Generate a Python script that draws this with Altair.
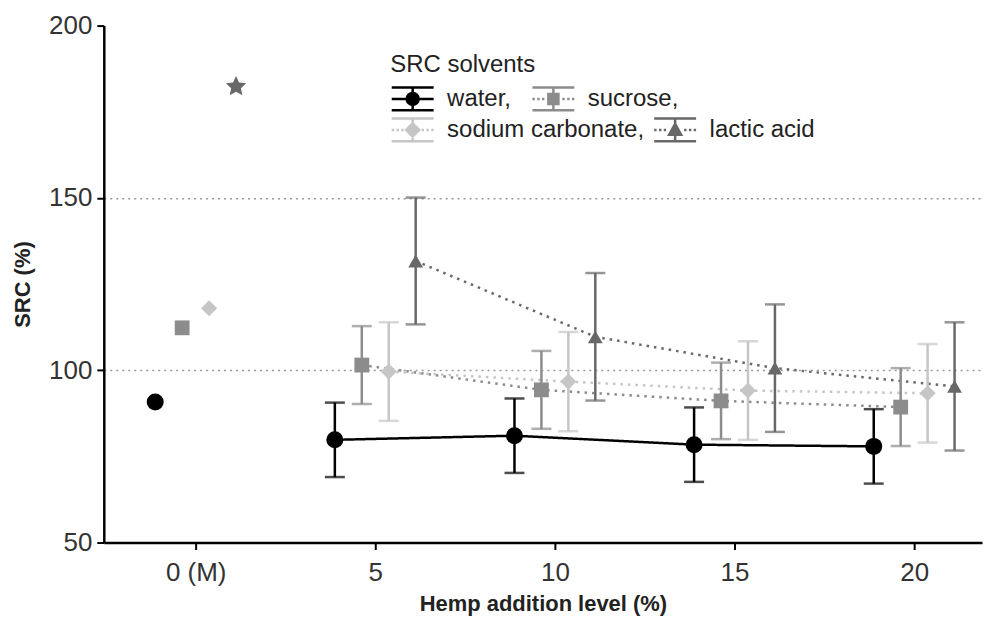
import altair as alt
import pandas as pd

# ---- data ----
solvents = ["water", "sucrose", "sodium carbonate", "lactic acid"]
levels = [0, 5, 10, 15, 20]
water = [90.8, 79.8, 81.0, 78.4, 77.9]
sucrose = [112.3, 101.5, 94.3, 91.1, 89.3]
sodium_carbonate = [118.0, 99.6, 96.7, 94.1, 93.3]
lactic_acid = [182.3, 131.7, 109.7, 100.6, 95.3]
water_err = [None, 10.8, 10.8, 10.8, 10.8]
sucrose_err = [None, 11.3, 11.3, 11.1, 11.3]
sodium_carbonate_err = [None, 14.3, 14.4, 14.3, 14.3]
lactic_acid_err = [None, 18.4, 18.5, 18.5, 18.6]
x_tick_values = [0, 5, 10, 15, 20]
x_tick_labels = ["0 (M)", "5", "10", "15", "20"]
y_tick_values = [50, 100, 150, 200]
legend_rows = [["water", "sucrose"], ["sodium carbonate", "lactic acid"]]

# ---- styling ----
colors = ["#000000", "#8c8c8c", "#c6c6c6", "#686868"]
dodge = [-1.125, -0.375, 0.375, 1.125]
FONT = "Liberation Sans"

values = [water, sucrose, sodium_carbonate, lactic_acid]
errors = [water_err, sucrose_err, sodium_carbonate_err, lactic_acid_err]
rows = []
for s, vals, errs, off in zip(solvents, values, errors, dodge):
    for lv, v, e in zip(levels, vals, errs):
        rows.append({
            "solvent": s, "level": lv, "src": v, "xpos": lv + off,
            "lo": None if e is None else v - e,
            "hi": None if e is None else v + e,
        })
df = pd.DataFrame(rows)

# x label expression from the tick label list
expr = "datum.label"
for v, lab in reversed(list(zip(x_tick_values, x_tick_labels))):
    expr = f"datum.value == {v} ? '{lab}' : ({expr})"

x_scale = alt.Scale(domain=[-2.556, 21.889], nice=False, zero=False)
y_scale = alt.Scale(domain=[50, 200], nice=False, zero=False)
color_scale = alt.Scale(domain=solvents, range=colors)

x_enc = alt.X("xpos:Q", scale=x_scale, axis=alt.Axis(
    values=x_tick_values, labelExpr=expr, title="Hemp addition level (%)",
    grid=False, tickSize=7, labelPadding=10, titlePadding=8))
y_enc = alt.Y("src:Q", scale=y_scale, axis=alt.Axis(
    values=y_tick_values, title="SRC (%)", grid=True, gridDash=[2, 4],
    gridColor="#9a9a9a", gridWidth=1.5,
    gridOpacity={"condition": {"test": "datum.value == 200 || datum.value == 50", "value": 0}, "value": 1},
    tickSize=7, labelPadding=5, titlePadding=14))

base = alt.Chart(df)
trend = base.transform_filter("datum.level > 0")

lines = trend.mark_line(strokeWidth=2.5, strokeCap="butt").encode(
    x=x_enc, y=y_enc,
    color=alt.Color("solvent:N", scale=color_scale, legend=None),
    strokeDash=alt.StrokeDash("solvent:N", scale=alt.Scale(
        domain=solvents, range=[[1, 0], [2.5, 5], [2.5, 5], [2.5, 5]]), legend=None),
)

bars = trend.mark_rule(strokeWidth=2.5).encode(
    x="xpos:Q", y="lo:Q", y2="hi:Q",
    color=alt.Color("solvent:N", scale=color_scale, legend=None),
)
cap_lo = trend.mark_tick(orient="horizontal", size=20, thickness=2.5).encode(
    x="xpos:Q", y="lo:Q",
    color=alt.Color("solvent:N", scale=color_scale, legend=None),
)
cap_hi = trend.mark_tick(orient="horizontal", size=20, thickness=2.5).encode(
    x="xpos:Q", y="hi:Q",
    color=alt.Color("solvent:N", scale=color_scale, legend=None),
)

# marker key: the control (0 %) lactic acid point is drawn as a star
STAR = ("M0,-1L0.282,-0.388L0.951,-0.309L0.456,0.148L0.588,0.809L0,0.48"
        "L-0.588,0.809L-0.456,0.148L-0.951,-0.309L-0.282,-0.388Z")
marker_keys = solvents + ["lactic acid (M)"]
points = base.transform_calculate(
    mk="datum.level == 0 && datum.solvent == 'lactic acid' ? 'lactic acid (M)' : datum.solvent"
).mark_point(filled=True, opacity=1).encode(
    x="xpos:Q", y="src:Q",
    color=alt.Color("solvent:N", scale=color_scale, legend=None),
    shape=alt.Shape("mk:N", scale=alt.Scale(
        domain=marker_keys, range=["circle", "square", "diamond", "triangle-up", STAR]), legend=None),
    size=alt.Size("mk:N", scale=alt.Scale(type="ordinal", domain=marker_keys,
                                          range=[290, 220, 260, 220, 460]), legend=None),
)

# ---- legend glyphs: error bar + line + marker ----
def glyph(marker, dotted):
    caps = "M-1,-0.95H2.5M-1,0.95H2.5M0.75,-0.95V0.95"
    if dotted:
        segs = [(-1, -0.8), (-0.6, -0.4), (-0.2, 0.0), (1.5, 1.7), (1.9, 2.1), (2.3, 2.5)]
        line = "".join(f"M{a},0H{b}" for a, b in segs)
    else:
        line = "M-1,0H2.5"
    return caps + line + marker

markers = [
    "M0.25,0A0.5,0.5,0,1,0,1.25,0A0.5,0.5,0,1,0,0.25,0Z",
    "M0.33,-0.42H1.17V0.42H0.33Z",
    "M0.75,-0.55L1.3,0L0.75,0.55L0.2,0Z",
    "M0.75,-0.5L1.25,0.4H0.25Z",
]
legend_paths = [glyph(m, i > 0) for i, m in enumerate(markers)]


def legend_layer(entries, y, col_pad, title):
    opts = dict(
        orient="none", legendX=287, legendY=y,
        direction="horizontal", columns=2, values=entries,
        symbolSize=576, symbolStrokeWidth=2.5,
        symbolOpacity=1, labelFontSize=24, titleFontSize=24, titleFontWeight="normal",
        labelFont=FONT, titleFont=FONT, labelColor="#222", titleColor="#222",
        labelOffset=30, rowPadding=9, columnPadding=col_pad, titlePadding=8, padding=0,
        labelLimit=0,
        labelExpr=f"datum.label == '{solvents[-1]}' ? datum.label : datum.label + ','",
    )
    leg = alt.Legend(title=title, **opts)
    return base.transform_filter("datum.level < -1000").mark_point(filled=True).encode(
        x="xpos:Q", y="src:Q",
        fill=alt.Fill("solvent:N", scale=alt.Scale(domain=solvents, range=colors), legend=leg),
        stroke=alt.Stroke("solvent:N", scale=alt.Scale(domain=solvents, range=colors), legend=leg),
        shape=alt.Shape("solvent:N", scale=alt.Scale(domain=solvents, range=legend_paths), legend=leg),
    )


legend1 = legend_layer(legend_rows[0], 28, 15, "SRC solvents")
legend2 = legend_layer(legend_rows[1], 91, 4, None)

chart = alt.layer(lines, bars, cap_lo, cap_hi, points, legend1, legend2).resolve_scale(
    shape="independent", fill="independent", stroke="independent", size="independent"
).properties(
    width=880, height=518,
    autosize=alt.AutoSizeParams(type="none"),
    padding={"left": 96, "top": 17, "right": 5, "bottom": 77},
).configure_view(stroke=None).configure_axis(
    domainColor="#000000", domainWidth=2.5, tickColor="#000000", tickWidth=2,
    labelFont=FONT, labelFontSize=26, labelColor="#333333",
    titleFont=FONT, titleFontSize=22, titleFontWeight="bold", titleColor="#222222",
)

chart.save("out.html", embed_options={"renderer": "svg", "actions": False})
